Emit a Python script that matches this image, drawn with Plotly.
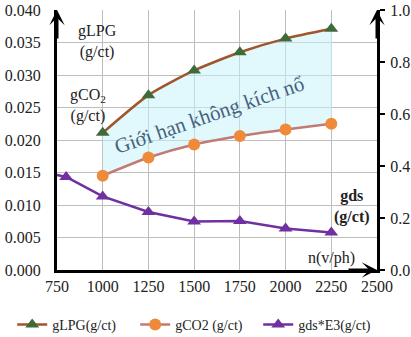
import plotly.graph_objects as go

# ---- data ----
n = [1000, 1250, 1500, 1750, 2000, 2250]
gLPG = [0.0211, 0.0269, 0.0307, 0.0335, 0.0356, 0.0371]
gCO2 = [0.0145, 0.0173, 0.0193, 0.0206, 0.0216, 0.0225]
gds_n = [750, 800, 1000, 1250, 1500, 1750, 2000, 2250]
gds = [0.365, 0.358, 0.283, 0.223, 0.187, 0.188, 0.160, 0.144]

x_ticks = [750, 1000, 1250, 1500, 1750, 2000, 2250, 2500]
y1_ticks = [0.0, 0.005, 0.010, 0.015, 0.020, 0.025, 0.030, 0.035, 0.040]
y2_ticks = [0.0, 0.2, 0.4, 0.6, 0.8, 1.0]

FONT = "Liberation Serif"
BROWN = "#a0562a"
GREEN = "#3f6b3a"
ROSE = "#c47a74"
ORANGE = "#ef8a3a"
PURPLE = "#7030a0"

fig = go.Figure()

# shaded region between the two curves
fig.add_trace(go.Scatter(
    x=n + n[::-1], y=gLPG + gCO2[::-1], fill="toself",
    fillcolor="rgba(200,242,252,0.55)", mode="lines",
    line=dict(color="rgba(190,235,248,0.9)", width=1),
    showlegend=False, hoverinfo="skip"))

fig.add_trace(go.Scatter(
    x=n, y=gLPG, name="gLPG(g/ct)", mode="lines+markers",
    line=dict(color=BROWN, width=2.5, shape="spline", smoothing=0.6),
    marker=dict(symbol="triangle-up", size=12, color=GREEN)))

fig.add_trace(go.Scatter(
    x=n, y=gCO2, name="gCO2 (g/ct)", mode="lines+markers",
    line=dict(color=ROSE, width=2.5, shape="spline", smoothing=0.6),
    marker=dict(symbol="circle", size=12, color=ORANGE)))

# lead-in segment of gds line (no marker at the axis)
fig.add_trace(go.Scatter(
    x=gds_n[:2], y=gds[:2], mode="lines", yaxis="y2",
    line=dict(color=PURPLE, width=2.5), showlegend=False, hoverinfo="skip"))

fig.add_trace(go.Scatter(
    x=gds_n[1:], y=gds[1:], name="gds*E3(g/ct)", mode="lines+markers", yaxis="y2",
    line=dict(color=PURPLE, width=2.5),
    marker=dict(symbol="triangle-up", size=12, color=PURPLE)))

tickfont = dict(family=FONT, size=16, color="#222222")

fig.update_layout(
    width=411, height=337,
    margin=dict(l=57, r=34, t=10, b=67, autoexpand=False),
    paper_bgcolor="white", plot_bgcolor="white",
    font=dict(family=FONT, size=16, color="#222222"),
    xaxis=dict(range=[750, 2500], tickvals=x_ticks, ticktext=[str(v) for v in x_ticks],
               showgrid=True, gridcolor="#bdbdbd", gridwidth=1,
               showline=True, linecolor="black", linewidth=3,
               ticks="", tickfont=tickfont, ticklabelstandoff=0, zeroline=False),
    yaxis=dict(range=[0, 0.04], tickvals=y1_ticks, ticktext=[f"{v:.3f}" for v in y1_ticks],
               showgrid=True, gridcolor="#bdbdbd", gridwidth=1,
               showline=True, linecolor="black", linewidth=3,
               ticks="", tickfont=tickfont, ticklabelstandoff=10, zeroline=False),
    yaxis2=dict(range=[0, 1.0], tickvals=y2_ticks, ticktext=[f"{v:.1f}" for v in y2_ticks],
                overlaying="y", side="right", showgrid=False,
                showline=True, linecolor="black", linewidth=3,
                ticks="outside", ticklen=5, tickwidth=2, tickcolor="black",
                tickfont=tickfont, ticklabelstandoff=2, zeroline=False),
    legend=dict(orientation="h", x=-0.14, xanchor="left", y=-0.15, yanchor="top",
                font=dict(family=FONT, size=14, color="#222222"),
                bgcolor="rgba(0,0,0,0)", entrywidth=78, entrywidthmode="pixels"),
    showlegend=True,
)

ann = []
# axis arrows
ann.append(dict(xref="paper", yref="paper", x=0, y=1, ax=0, ay=30,
                showarrow=True, arrowhead=3, arrowsize=0.85, arrowwidth=3, arrowcolor="black", text=""))
ann.append(dict(xref="paper", yref="paper", x=1, y=1, ax=0, ay=30,
                showarrow=True, arrowhead=3, arrowsize=0.85, arrowwidth=3, arrowcolor="black", text=""))
ann.append(dict(xref="paper", yref="paper", x=1, y=0, ax=-30, ay=0,
                showarrow=True, arrowhead=3, arrowsize=0.85, arrowwidth=3, arrowcolor="black", text=""))

# labels
ann.append(dict(x=969, y=0.0352, xref="x", yref="y", text="gLPG<br>(g/ct)", showarrow=False,
                font=dict(family=FONT, size=16, color="#222222"), align="center"))
ann.append(dict(x=920, y=0.0253, xref="x", yref="y", text="gCO<sub>2</sub><br>(g/ct)", showarrow=False,
                font=dict(family=FONT, size=16, color="#222222"), align="center"))
ann.append(dict(x=2365, y=0.0098, xref="x", yref="y", text="<b>gds</b><br><b>(g/ct)</b>", showarrow=False,
                font=dict(family=FONT, size=16, color="#222222"), align="center"))
ann.append(dict(x=2250, y=0.0019, xref="x", yref="y", text="n(v/ph)", showarrow=False,
                font=dict(family=FONT, size=16, color="#222222")))
ann.append(dict(x=1585, y=0.0238, xref="x", yref="y", text="Giới hạn không kích nổ", showarrow=False,
                textangle=-19, font=dict(family=FONT, size=21, color="#46627c")))

fig.update_layout(annotations=ann)

fig.write_html("out.html")
